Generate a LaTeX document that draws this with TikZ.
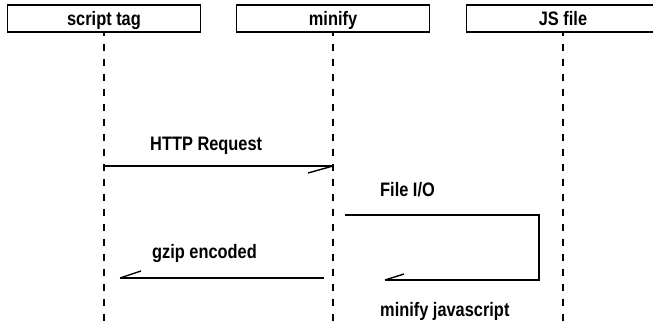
\documentclass[tikz,border=0pt]{standalone}
\usepackage{fontspec}
\setmainfont{Liberation Sans}[FakeStretch=0.84]
\begin{document}
\begin{tikzpicture}[x=1pt,y=-1pt,
  txt/.style={inner sep=0pt, font=\fontsize{19.5}{22}\selectfont\bfseries},
  head/.style={draw, line width=1.3pt, minimum width=193pt, minimum height=27pt, inner sep=0pt},
  life/.style={line width=1.4pt, dash pattern=on 7pt off 8pt, dash phase=4pt},
  msg/.style={line width=1.4pt, line join=miter}]
\useasboundingbox (0,0) rectangle (653,326);
\clip (0,0) rectangle (653,326);
% heads
\node[head] (st) at (104,18.5) {};
\node[head] (mf) at (333,18.5) {};
\node[head] (js) at (563,18.5) {};
\node[txt, anchor=base] (stl) at (104,25.5) {script tag};
\node[txt, anchor=base] (mfl) at (333,25.5) {minify};
\node[txt, anchor=base] (jsl) at (563,25.5) {JS file};
% lifeline ends
\coordinate (ste) at (104,326);
\coordinate (mfe) at (333,326);
\coordinate (jse) at (563,326);
\draw[life] (st.south) -- (ste);
\draw[life] (mf.south) -- (mfe);
\draw[life] (js.south) -- (jse);
% HTTP Request
\coordinate (h1) at (104,166);
\coordinate (h2) at (333,166);
\coordinate (h2b) at (308,173);
\draw[msg] (h1) -- (h2);
\draw[msg] (h2) -- (h2b);
\node[txt, anchor=base west] (hl) at (150,150) {HTTP Request};
% File I/O
\coordinate (f1) at (345,215);
\coordinate (f2) at (539,280);
\coordinate (f3) at (385,280);
\coordinate (f3b) at (404,274);
\draw[msg] (f1) -| (f2) -- (f3);
\draw[msg] (f3) -- (f3b);
\node[txt, anchor=base west] (fl) at (380,196) {File I/O};
\node[txt, anchor=base west] (ml) at (380,316) {minify javascript};
% gzip encoded
\coordinate (g1) at (324,278);
\coordinate (g2) at (120,278);
\coordinate (g2b) at (141,271);
\draw[msg] (g1) -- (g2);
\draw[msg] (g2) -- (g2b);
\node[txt, anchor=base west] (gl) at (152,258) {gzip encoded};
\end{tikzpicture}
\end{document}
